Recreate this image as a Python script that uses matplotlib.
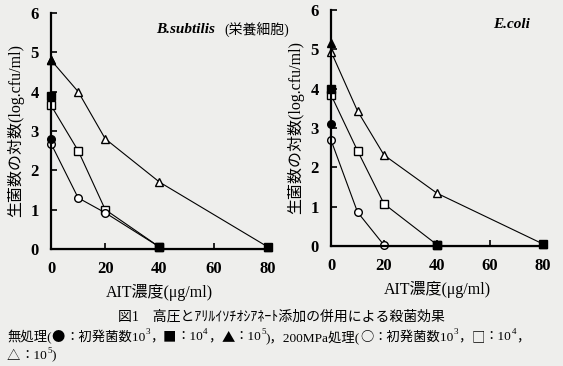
import matplotlib
matplotlib.use('Agg')
import matplotlib.pyplot as plt

plt.rcParams['font.family'] = ['Liberation Serif', 'Noto Sans CJK JP', 'DejaVu Sans']

# B.subtilis (栄養細胞)
bs_x = [0, 10, 20, 40]
bs_circle_open = [2.68, 1.3, 0.92, 0.05]
bs_square_open = [3.65, 2.5, 1.0, 0.05]
bs_tri_x = [0, 10, 20, 40, 80]
bs_tri_open = [4.8, 4.0, 2.8, 1.7, 0.05]
bs_filled = [2.8, 3.88, 4.81]   # circle, square, triangle at 0
bs_end_x = [40, 80]
bs_end_y = [0.05, 0.05]

# E.coli
ec_circle_x = [0, 10, 20]
ec_circle_open = [2.69, 0.86, 0.02]
ec_square_x = [0, 10, 20, 40]
ec_square_open = [3.84, 2.42, 1.07, 0.03]
ec_tri_x = [0, 10, 20, 40, 80]
ec_tri_open = [4.94, 3.43, 2.31, 1.34, 0.05]
ec_filled = [3.09, 4.0, 5.17]
ec_end_x = [40, 80]
ec_end_y = [0.03, 0.05]

bg = '#eeeeec'
fig = plt.figure(figsize=(5.63, 3.66), dpi=100)
fig.patch.set_facecolor(bg)

ax1 = fig.add_axes([0.0906, 0.3197, 0.3854, 0.645])
ax2 = fig.add_axes([0.588, 0.3279, 0.3766, 0.645])

lkw = dict(color='black', lw=0.8)
mk = dict(markersize=5.5, markeredgecolor='black', markeredgewidth=1.0)

def panel(ax, cx, cy, sx, sy, tx, ty, filled, ex, ey):
    ax.plot(tx, ty, '-', **lkw)
    ax.plot(sx, sy, '-', **lkw)
    ax.plot(cx, cy, '-', **lkw)
    ax.plot([0, 80], [0, 0], '-', **lkw)
    ax.plot(tx, ty, '^', markerfacecolor='white', **mk)
    ax.plot(sx, sy, 's', markerfacecolor='white', **mk)
    ax.plot(cx, cy, 'o', markerfacecolor='white', **mk)
    ax.plot([0], [filled[0]], 'o', markerfacecolor='black', **mk)
    ax.plot([0], [filled[1]], 's', markerfacecolor='black', **mk)
    ax.plot([0], [filled[2]], '^', markerfacecolor='black', **mk)
    ax.plot(ex, ey, 's', markerfacecolor='black', **mk)
    ax.set_facecolor(bg)
    ax.set_xlim(0, 80)
    ax.set_ylim(0, 6)
    ax.set_xticks([0, 20, 40, 60, 80])
    ax.set_yticks([0, 1, 2, 3, 4, 5, 6])
    ax.spines['top'].set_visible(False)
    ax.spines['right'].set_visible(False)
    ax.spines['left'].set_linewidth(1.6)
    ax.spines['bottom'].set_linewidth(1.6)
    ax.tick_params(direction='in', length=4, width=1.2, labelsize=12, pad=9)
    for lab in ax.get_xticklabels() + ax.get_yticklabels():
        lab.set_fontweight('bold')
    ax.set_xlabel('AIT濃度(μg/ml)', fontsize=11.5, labelpad=5)
    ax.set_ylabel('生菌数の対数(log.cfu/ml)', fontsize=11.5, labelpad=4)
    for a in ax.lines:
        a.set_clip_on(False)

panel(ax1, bs_x, bs_circle_open, bs_x, bs_square_open, bs_tri_x, bs_tri_open,
      bs_filled, bs_end_x, bs_end_y)
panel(ax2, ec_circle_x, ec_circle_open, ec_square_x, ec_square_open, ec_tri_x, ec_tri_open,
      ec_filled, ec_end_x, ec_end_y)

ax1.text(0.62, 0.93, 'B.subtilis', transform=ax1.transAxes, fontsize=11,
         style='italic', fontweight='bold', ha='center', va='center')
ax1.text(0.95, 0.93, '(栄養細胞)', transform=ax1.transAxes, fontsize=10,
         ha='center', va='center')
ax2.text(0.85, 0.94, 'E.coli', transform=ax2.transAxes, fontsize=11,
         style='italic', fontweight='bold', ha='center', va='center')

fig.text(0.5, 1 - 317 / 366, '図1　高圧とｱﾘﾙｲｿﾁｵｼｱﾈｰﾄ添加の併用による殺菌効果',
         fontsize=10, ha='center', va='center')

# caption lines built from pieces so the symbols come from the CJK font
cjk = ['Noto Sans CJK JP', 'DejaVu Sans']
serif = ['Liberation Serif', 'Noto Sans CJK JP']
line2 = [('無処理(', serif), ('●', cjk), ('：初発菌数10', serif), ('3', 'sup'),
         ('，', serif), ('■', cjk), ('：10', serif), ('4', 'sup'),
         ('，', serif), ('▲', cjk), ('：10', serif), ('5', 'sup'),
         (')，200MPa処理(', serif), ('○', cjk), ('：初発菌数10', serif), ('3', 'sup'),
         ('，', serif), ('□', cjk), ('：10', serif), ('4', 'sup'), ('，', serif)]
line3 = [('△', cjk), ('：10', serif), ('5', 'sup'), (')', serif)]

renderer = fig.canvas.get_renderer()

def write_line(parts, x0, ypix):
    x = x0
    for s, fam in parts:
        if fam == 'sup':
            t = fig.text(x, ypix + 5, s, fontsize=6.5, family=serif,
                         ha='left', va='center', transform=None)
        else:
            t = fig.text(x, ypix, s, fontsize=9.6, family=fam,
                         ha='left', va='center', transform=None)
        x = t.get_window_extent(renderer).x1

write_line(line2, 7, 366 - 337)
write_line(line3, 7, 366 - 356)

fig.savefig('out.png', dpi=100, facecolor=bg)
